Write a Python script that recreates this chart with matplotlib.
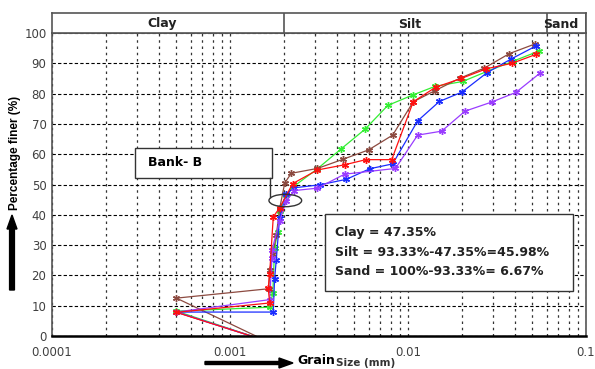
import matplotlib.pyplot as plt
from matplotlib.patches import Rectangle, Ellipse, FancyArrow

# grain size (mm) / percentage finer
green_d = [0.0541, 0.039, 0.0277, 0.0203, 0.0142, 0.0106, 0.0077, 0.00575, 0.0042, 0.0031,
           0.00225, 0.00207, 0.0019, 0.00185, 0.00178, 0.00174, 0.00167, 0.0005, 0.00158]
green_p = [94.0, 90.7, 87.3, 84.0, 82.4, 79.5, 76.1, 68.3, 61.7, 55.2,
           49.1, 46.5, 41.4, 34.3, 28.9, 14.2, 9.5, 8.2, -1.5]

brown_d = [0.0518, 0.0371, 0.0268, 0.0196, 0.0142, 0.0107, 0.0082, 0.0060, 0.0043, 0.0031,
           0.00221, 0.00203, 0.0019, 0.00182, 0.00174, 0.00167, 0.00165, 0.0005, 0.00158]
brown_p = [96.4, 93.2, 88.4, 85.1, 81.0, 77.3, 66.3, 61.4, 58.3, 55.3,
           53.7, 50.5, 42.0, 33.2, 26.9, 21.8, 15.6, 12.5, -1.5]

blue_d = [0.0523, 0.0379, 0.0278, 0.0201, 0.0150, 0.01133, 0.0082, 0.0061, 0.0045, 0.0032,
          0.00229, 0.00207, 0.0019, 0.00182, 0.00178, 0.00175, 0.0005, 0.00158]
blue_p = [95.7, 91.4, 86.9, 80.5, 77.4, 71.0, 56.8, 55.2, 51.7, 49.9,
          48.9, 46.9, 39.1, 25.2, 18.8, 7.9, 7.9, -1.5]

purple_d = [0.0550, 0.0404, 0.0295, 0.0209, 0.01545, 0.01133, 0.0085, 0.0044, 0.0031,
            0.0023, 0.00207, 0.0019, 0.00172, 0.00172, 0.00167, 0.0005, 0.00158]
purple_p = [86.7, 80.4, 77.2, 74.2, 67.6, 66.3, 55.3, 53.4, 48.8,
            48.0, 44.5, 38.0, 28.3, 25.6, 12.0, 7.9, -1.5]

red_d = [0.0527, 0.0384, 0.0276, 0.0199, 0.0143, 0.0107, 0.0081, 0.0058, 0.0044, 0.0031,
         0.00225, 0.0019, 0.00175, 0.00167, 0.00164, 0.00167, 0.0005, 0.00158]
red_p = [93.0, 90.0, 88.2, 85.0, 82.1, 77.3, 58.2, 58.2, 56.5, 54.8,
         50.3, 42.3, 39.3, 20.5, 15.8, 10.9, 7.8, -1.5]

series = [(green_d, green_p, '#33ee33'),
          (brown_d, brown_p, '#8c4a40'),
          (blue_d, blue_p, '#1a2cff'),
          (purple_d, purple_p, '#9a3cff'),
          (red_d, red_p, '#ff1010')]

y_ticks = list(range(0, 101, 10))
x_ticks = [0.0001, 0.001, 0.01, 0.1]
x_labels = ['0.0001', '0.001', '0.01', '0.1']
zones = [('Clay', 0.0001, 0.002), ('Silt', 0.002, 0.06), ('Sand', 0.06, 0.1)]
summary = ['Clay = 47.35%', 'Silt = 93.33%-47.35%=45.98%', 'Sand = 100%-93.33%= 6.67%']

fig = plt.figure(figsize=(5.95, 3.69), dpi=100)
ax = fig.add_axes([52/595, 33/369, 534/595, 303/369])

for d, p, c in series:
    ax.plot(d, p, color=c, lw=0.9, marker=(6, 2, 0), ms=5, mew=1.0)

ax.set_xscale('log')
ax.set_xlim(0.0001, 0.1)
ax.set_ylim(0, 100)
ax.set_yticks(y_ticks)
ax.set_xticks(x_ticks)
ax.set_xticklabels(x_labels)
ax.tick_params(axis='both', length=0, labelsize=8.5, labelcolor='#404040')
ax.tick_params(axis='x', pad=7)
ax.tick_params(axis='y', pad=4)
ax.tick_params(axis='x', which='minor', length=0)
ax.xaxis.grid(True, which='both', color='#333333', ls=(0, (2, 3)), lw=0.9)
ax.yaxis.grid(True, color='black', ls=(0, (3, 2)), lw=0.8)
for s in ['left', 'right', 'top']:
    ax.spines[s].set_color('#555555')
    ax.spines[s].set_linewidth(1.2)
ax.spines['bottom'].set_linewidth(1.8)

# zone header above the plot
hx = fig.add_axes([52/595, 336/369, 534/595, 20/369], sharex=ax)
hx.set_ylim(0, 1)
hx.set_yticks([])
hx.tick_params(axis='x', which='both', length=0, labelbottom=False)
for name, lo, hi in zones:
    hx.axvline(hi, color='#555555', lw=1.2)
    hx.text((lo * hi) ** 0.5 * 0.93, 0.45, name, ha='center', va='center',
            fontsize=9, fontweight='bold', color='#222222')
for s in hx.spines.values():
    s.set_color('#555555')
    s.set_linewidth(1.2)

# annotation boxes
ax.add_patch(Rectangle((0.155, 0.5215), 0.257, 0.0985, transform=ax.transAxes,
                       facecolor='white', edgecolor='#333333', lw=1, zorder=5))
ax.text(0.18, 0.571, 'Bank- B', transform=ax.transAxes, fontsize=9,
        fontweight='bold', va='center', zorder=6)
ax.plot([0.409, 0.409], [0.5215, 0.46], transform=ax.transAxes, color='#333333', lw=1, zorder=5)
fig.patches.append(Ellipse((285.3/595, 1 - 200.5/369), 32.7/595, 12.4/369,
                           transform=fig.transFigure, fill=False, edgecolor='#333333', lw=1))

ax.add_patch(Rectangle((0.511, 0.1485), 0.465, 0.2541, transform=ax.transAxes,
                       facecolor='white', edgecolor='#333333', lw=1, zorder=5))
for i, line in enumerate(summary):
    ax.text(0.530, 0.340 - i * 0.0628, line, transform=ax.transAxes, fontsize=9,
            fontweight='bold', va='center', color='#222222', zorder=6)

# axis titles with arrows
fig.text(15/595, 1 - 153/369, 'Percentage finer (%)', rotation=90, ha='center', va='center',
         fontsize=8.5, fontweight='bold', family='Liberation Sans')
fig.patches.append(FancyArrow(12/595, 1 - 290/369, 0, 75/369, width=3/369, head_width=10/595,
                              head_length=14/369, color='black', transform=fig.transFigure,
                              length_includes_head=True))
fig.patches.append(FancyArrow(205/595, 1 - 363/369, 88/595, 0, width=3/369, head_width=10/369,
                              head_length=14/595, color='black', transform=fig.transFigure,
                              length_includes_head=True))
fig.text(297/595, 1 - 361/369, 'Grain', ha='left', va='center', fontsize=9, fontweight='bold')
fig.text(336/595, 1 - 363/369, 'Size (mm)', ha='left', va='center', fontsize=7.5,
         fontweight='semibold', color='#333333')

fig.savefig('out.png', dpi=100)
